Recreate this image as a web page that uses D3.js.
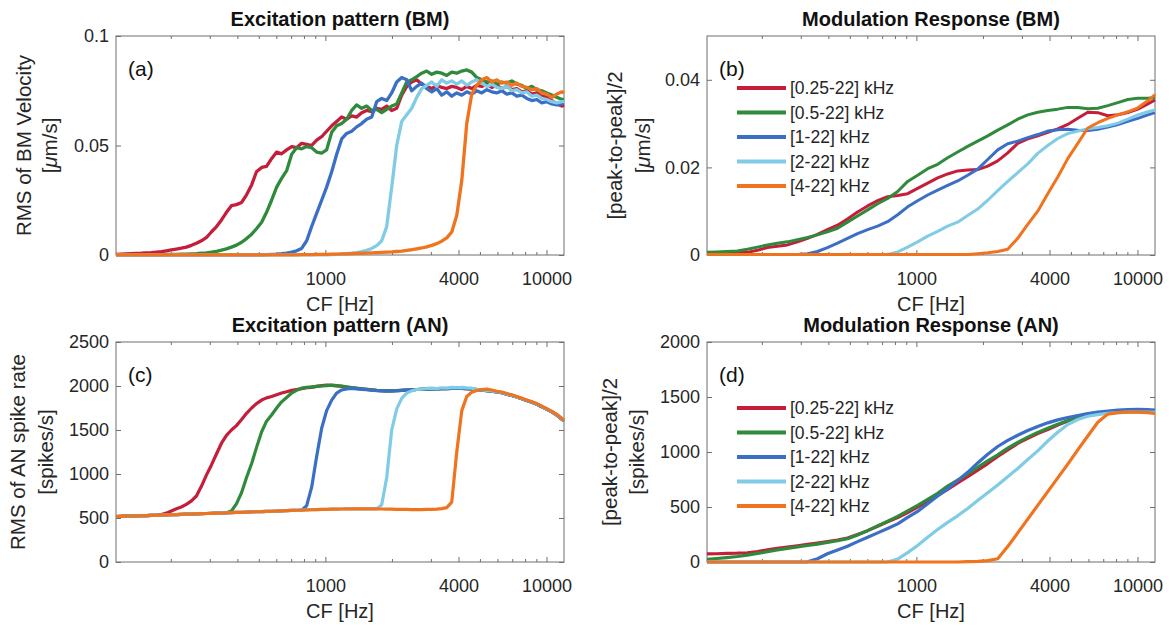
<!DOCTYPE html>
<html>
<head>
<meta charset="utf-8">
<script src="https://cdn.jsdelivr.net/npm/d3@7"></script>
<style>
  body { margin: 0; background: #fff; }
  svg { font-family: "Liberation Sans", Arial, sans-serif; }
</style>
</head>
<body>
<div id="chart"></div>
<script>
// 頻帶名稱與顏色
const bandNames = ["[0.25-22] kHz", "[0.5-22] kHz", "[1-22] kHz", "[2-22] kHz", "[4-22] kHz"];
const bandColors = ["#c41e3a", "#2f8a3c", "#3b6fc6", "#80cbe5", "#f0731e"];

// CF 軸
const cfDomain = [113, 12000];
const xTickValues = [1000, 4000, 10000];
const xMinorTicks = [200, 300, 400, 500, 600, 700, 800, 900, 2000, 3000, 5000, 6000, 7000, 8000, 9000];

// 細格點 (a)(c)
const cfFine = [113, 119, 125, 132, 139, 147, 155, 163, 172, 181,
  191, 201, 212, 223, 235, 248, 261, 275, 290, 305,
  322, 339, 357, 376, 396, 418, 440, 464, 488, 515,
  542, 571, 602, 634, 668, 704, 741, 781, 823, 867,
  913, 962, 1013, 1068, 1125, 1185, 1248, 1315, 1385, 1459,
  1537, 1620, 1706, 1798, 1894, 1995, 2102, 2214, 2333, 2457,
  2589, 2727, 2873, 3027, 3189, 3359, 3539, 3728, 3928, 4138,
  4359, 4592, 4838, 5097, 5370, 5657, 5959, 6278, 6614, 6968,
  7341, 7733, 8147, 8583, 9042, 9525, 10035, 10571, 11137, 11733, 12000];

// 粗格點 (b)(d)
const cfCoarse = [113, 125, 139, 155, 172, 191, 212, 235, 261, 290,
  322, 357, 396, 440, 488, 542, 602, 668, 741, 823,
  913, 1013, 1125, 1248, 1385, 1537, 1706, 1894, 2102, 2333,
  2589, 2873, 3189, 3539, 3928, 4359, 4838, 5370, 5959, 6614,
  7341, 8147, 9042, 10035, 11137, 12000];

// (a) Excitation pattern (BM), μm/s
const excBM025 = [0.0003, 0.0004, 0.0005, 0.0006, 0.0007, 0.0008, 0.0010, 0.0011, 0.0013, 0.0015,
  0.0019, 0.0023, 0.0027, 0.0031, 0.0036, 0.0044, 0.0054, 0.0065, 0.0080, 0.0105,
  0.0130, 0.0160, 0.0195, 0.0225, 0.0230, 0.0240, 0.0275, 0.0320, 0.0380, 0.0400,
  0.0405, 0.0440, 0.0470, 0.0462, 0.0480, 0.0495, 0.0490, 0.0510, 0.0505, 0.0500,
  0.0525, 0.0540, 0.0565, 0.0590, 0.0610, 0.0630, 0.0620, 0.0635, 0.0630, 0.0650,
  0.0660, 0.0655, 0.0670, 0.0665, 0.0680, 0.0660, 0.0670, 0.0730, 0.0770, 0.0790,
  0.0800, 0.0780, 0.0770, 0.0760, 0.0775, 0.0765, 0.0760, 0.0770, 0.0765, 0.0755,
  0.0770, 0.0760, 0.0775, 0.0770, 0.0780, 0.0765, 0.0775, 0.0760, 0.0770, 0.0755,
  0.0760, 0.0745, 0.0750, 0.0735, 0.0740, 0.0725, 0.0720, 0.0705, 0.0690, 0.0680, 0.0685];
const excBM05 = [0.0002, 0.0002, 0.0002, 0.0002, 0.0002, 0.0002, 0.0002, 0.0002, 0.0002, 0.0002,
  0.0003, 0.0003, 0.0003, 0.0004, 0.0004, 0.0005, 0.0006, 0.0008, 0.0010, 0.0013,
  0.0017, 0.0022, 0.0028, 0.0036, 0.0045, 0.0058, 0.0075, 0.0095, 0.0120, 0.0150,
  0.0195, 0.0250, 0.0310, 0.0350, 0.0385, 0.0460, 0.0490, 0.0485, 0.0495, 0.0490,
  0.0470, 0.0465, 0.0480, 0.0560, 0.0590, 0.0600, 0.0620, 0.0660, 0.0685, 0.0670,
  0.0680, 0.0660, 0.0665, 0.0650, 0.0665, 0.0680, 0.0690, 0.0740, 0.0790, 0.0800,
  0.0815, 0.0830, 0.0840, 0.0825, 0.0835, 0.0830, 0.0820, 0.0835, 0.0830, 0.0840,
  0.0845, 0.0835, 0.0810, 0.0800, 0.0790, 0.0795, 0.0780, 0.0790, 0.0785, 0.0795,
  0.0780, 0.0775, 0.0760, 0.0770, 0.0755, 0.0750, 0.0740, 0.0730, 0.0720, 0.0710, 0.0712];
const excBM1 = [0.0001, 0.0001, 0.0001, 0.0001, 0.0001, 0.0001, 0.0001, 0.0001, 0.0001, 0.0001,
  0.0001, 0.0001, 0.0001, 0.0001, 0.0001, 0.0001, 0.0001, 0.0001, 0.0001, 0.0001,
  0.0001, 0.0001, 0.0001, 0.0001, 0.0001, 0.0001, 0.0001, 0.0001, 0.0001, 0.0001,
  0.0002, 0.0003, 0.0004, 0.0006, 0.0009, 0.0013, 0.0019, 0.0030, 0.0065, 0.0130,
  0.0190, 0.0250, 0.0310, 0.0380, 0.0460, 0.0530, 0.0555, 0.0565, 0.0585, 0.0600,
  0.0620, 0.0630, 0.0700, 0.0715, 0.0705, 0.0740, 0.0790, 0.0810, 0.0800, 0.0750,
  0.0770, 0.0785, 0.0760, 0.0745, 0.0760, 0.0730, 0.0745, 0.0725, 0.0740, 0.0730,
  0.0745, 0.0735, 0.0750, 0.0740, 0.0755, 0.0745, 0.0740, 0.0750, 0.0735, 0.0740,
  0.0725, 0.0730, 0.0715, 0.0705, 0.0710, 0.0695, 0.0700, 0.0690, 0.0685, 0.0690, 0.0692];
const excBM2 = [0.0001, 0.0001, 0.0001, 0.0001, 0.0001, 0.0001, 0.0001, 0.0001, 0.0001, 0.0001,
  0.0001, 0.0001, 0.0001, 0.0001, 0.0001, 0.0001, 0.0001, 0.0001, 0.0001, 0.0001,
  0.0001, 0.0001, 0.0001, 0.0001, 0.0001, 0.0001, 0.0001, 0.0001, 0.0001, 0.0001,
  0.0001, 0.0001, 0.0001, 0.0001, 0.0001, 0.0001, 0.0001, 0.0001, 0.0001, 0.0001,
  0.0001, 0.0001, 0.0001, 0.0002, 0.0003, 0.0004, 0.0006, 0.0008, 0.0011, 0.0015,
  0.0021, 0.0030, 0.0043, 0.0065, 0.0130, 0.0310, 0.0500, 0.0610, 0.0640, 0.0670,
  0.0720, 0.0760, 0.0775, 0.0790, 0.0770, 0.0800, 0.0785, 0.0795, 0.0780, 0.0795,
  0.0775, 0.0790, 0.0800, 0.0785, 0.0770, 0.0780, 0.0765, 0.0760, 0.0770, 0.0750,
  0.0755, 0.0740, 0.0745, 0.0725, 0.0730, 0.0715, 0.0710, 0.0700, 0.0695, 0.0700, 0.0702];
const excBM4 = [0.0001, 0.0001, 0.0001, 0.0001, 0.0001, 0.0001, 0.0001, 0.0001, 0.0001, 0.0001,
  0.0001, 0.0001, 0.0001, 0.0001, 0.0001, 0.0001, 0.0001, 0.0001, 0.0001, 0.0001,
  0.0001, 0.0001, 0.0001, 0.0001, 0.0001, 0.0001, 0.0001, 0.0001, 0.0001, 0.0001,
  0.0001, 0.0001, 0.0001, 0.0001, 0.0001, 0.0001, 0.0001, 0.0002, 0.0002, 0.0002,
  0.0003, 0.0003, 0.0003, 0.0004, 0.0004, 0.0005, 0.0005, 0.0006, 0.0007, 0.0008,
  0.0009, 0.0010, 0.0011, 0.0012, 0.0013, 0.0014, 0.0016, 0.0018, 0.0021, 0.0024,
  0.0028, 0.0032, 0.0037, 0.0044, 0.0052, 0.0063, 0.0078, 0.0105, 0.0180, 0.0340,
  0.0600, 0.0735, 0.0775, 0.0800, 0.0810, 0.0790, 0.0800, 0.0785, 0.0790, 0.0775,
  0.0785, 0.0770, 0.0765, 0.0755, 0.0760, 0.0740, 0.0735, 0.0720, 0.0735, 0.0745, 0.0740];

// (b) Modulation Response (BM), μm/s
const modBM025 = [0.0004, 0.0004, 0.0005, 0.0005, 0.0006, 0.0011, 0.0017, 0.0020, 0.0023, 0.0030,
  0.0038, 0.0047, 0.0058, 0.0068, 0.0082, 0.0098, 0.0112, 0.0124, 0.0133, 0.0136,
  0.0140, 0.0152, 0.0164, 0.0176, 0.0185, 0.0192, 0.0194, 0.0195, 0.0203, 0.0215,
  0.0233, 0.0255, 0.0265, 0.0272, 0.0280, 0.0288, 0.0298, 0.0312, 0.0326, 0.0325,
  0.0318, 0.0320, 0.0325, 0.0333, 0.0345, 0.0354];
const modBM05 = [0.0006, 0.0007, 0.0008, 0.0009, 0.0013, 0.0018, 0.0023, 0.0027, 0.0030, 0.0035,
  0.0040, 0.0046, 0.0053, 0.0061, 0.0075, 0.0089, 0.0103, 0.0117, 0.0129, 0.0145,
  0.0168, 0.0182, 0.0197, 0.0207, 0.0222, 0.0235, 0.0248, 0.0260, 0.0272, 0.0285,
  0.0297, 0.0310, 0.0320, 0.0326, 0.0330, 0.0333, 0.0337, 0.0337, 0.0334, 0.0335,
  0.0341, 0.0348, 0.0355, 0.0358, 0.0358, 0.0359];
const modBM1 = [0.0001, 0.0001, 0.0001, 0.0001, 0.0001, 0.0001, 0.0001, 0.0001, 0.0001, 0.0001,
  0.0003, 0.0008, 0.0017, 0.0027, 0.0038, 0.0049, 0.0058, 0.0066, 0.0076, 0.0092,
  0.0110, 0.0124, 0.0137, 0.0148, 0.0159, 0.0169, 0.0182, 0.0196, 0.0218, 0.0240,
  0.0254, 0.0260, 0.0268, 0.0275, 0.0283, 0.0286, 0.0287, 0.0285, 0.0284, 0.0287,
  0.0292, 0.0298, 0.0305, 0.0312, 0.0320, 0.0325];
const modBM2 = [0.0001, 0.0001, 0.0001, 0.0001, 0.0001, 0.0001, 0.0001, 0.0001, 0.0001, 0.0001,
  0.0001, 0.0001, 0.0001, 0.0001, 0.0001, 0.0001, 0.0001, 0.0001, 0.0001, 0.0007,
  0.0018, 0.0030, 0.0043, 0.0054, 0.0066, 0.0075, 0.0090, 0.0105, 0.0125, 0.0147,
  0.0168, 0.0188, 0.0208, 0.0232, 0.0250, 0.0266, 0.0277, 0.0283, 0.0288, 0.0291,
  0.0295, 0.0301, 0.0310, 0.0320, 0.0327, 0.0331];
const modBM4 = [0.0001, 0.0001, 0.0001, 0.0001, 0.0001, 0.0001, 0.0001, 0.0001, 0.0001, 0.0001,
  0.0001, 0.0001, 0.0001, 0.0001, 0.0001, 0.0001, 0.0001, 0.0001, 0.0001, 0.0001,
  0.0001, 0.0001, 0.0001, 0.0001, 0.0001, 0.0001, 0.0001, 0.0003, 0.0005, 0.0008,
  0.0013, 0.0038, 0.0070, 0.0100, 0.0140, 0.0178, 0.0220, 0.0255, 0.0290, 0.0302,
  0.0312, 0.0320, 0.0327, 0.0336, 0.0352, 0.0366];

// (c) Excitation pattern (AN), spikes/s — 共同的自發放電基線
const anBaseline = [517, 519, 521, 522, 524, 526, 527, 529, 531, 533,
  535, 537, 539, 541, 543, 545, 547, 549, 551, 553,
  555, 557, 559, 561, 563, 565, 567, 569, 571, 573,
  575, 577, 579, 581, 583, 586, 588, 590, 592, 594,
  596, 598, 599, 600, 601, 602, 603, 603, 604, 604,
  604, 603, 603, 602, 601, 600, 599, 598, 597, 596,
  596, 596, 597, 598, 601, 606, 618];
const excAN025 = anBaseline.slice(0, 9).concat([540, 555, 580, 605, 625, 655, 695, 750, 860, 990,
  1100, 1230, 1350, 1440, 1500, 1550, 1620, 1690, 1750, 1800, 1840, 1865, 1880, 1900, 1920,
  1935, 1950, 1960, 1970, 1980, 1985, 1995, 2005, 2010, 2008, 2002, 1996, 1988, 1980, 1973,
  1968, 1962, 1956, 1950, 1946, 1944, 1944, 1947, 1950, 1953, 1957, 1960, 1963, 1965, 1967,
  1968, 1970, 1971, 1972, 1973, 1972, 1970, 1966, 1960, 1953, 1948, 1942, 1932, 1923, 1906,
  1892, 1874, 1855, 1836, 1815, 1792, 1765, 1735, 1705, 1670, 1622, 1605]);
const excAN05 = anBaseline.slice(0, 23).concat([580, 660, 790, 960, 1120, 1300, 1480, 1600, 1670,
  1750, 1820, 1870, 1920, 1950, 1975, 1985, 1990, 1995, 2000, 2005, 2010, 2005, 2000, 1990,
  1982, 1975, 1968, 1962, 1956, 1950, 1946, 1944, 1944, 1947, 1950, 1953, 1957, 1960, 1963,
  1965, 1967, 1968, 1970, 1971, 1972, 1973, 1972, 1970, 1966, 1960, 1953, 1948, 1942, 1932,
  1923, 1906, 1892, 1874, 1855, 1836, 1815, 1792, 1765, 1735, 1705, 1670, 1622, 1605]);
const excAN1 = anBaseline.slice(0, 38).concat([640, 850, 1200, 1520, 1720, 1840, 1920, 1955, 1968,
  1972, 1968, 1962, 1958, 1952, 1948, 1944, 1942, 1943, 1946, 1950, 1953, 1957, 1960, 1963,
  1965, 1967, 1968, 1970, 1971, 1972, 1973, 1972, 1970, 1966, 1960, 1953, 1948, 1942, 1932,
  1923, 1906, 1892, 1874, 1855, 1836, 1815, 1792, 1765, 1735, 1705, 1670, 1622, 1605]);
const excAN2 = anBaseline.slice(0, 53).concat([650, 960, 1500, 1740, 1860, 1920, 1945, 1960, 1965,
  1972, 1975, 1970, 1980, 1976, 1984, 1980, 1985, 1978, 1975, 1962, 1955, 1950, 1945, 1935,
  1926, 1910, 1895, 1876, 1858, 1838, 1818, 1795, 1768, 1738, 1708, 1672, 1625, 1610]);
const excAN4 = anBaseline.concat([680, 1250, 1720, 1880, 1930, 1950, 1960, 1965, 1955, 1940,
  1932, 1915, 1900, 1880, 1862, 1842, 1822, 1800, 1772, 1742, 1712, 1678, 1632, 1615]);

// (d) Modulation Response (AN), spikes/s
const modAN025 = [73, 75, 78, 80, 84, 95, 110, 124, 136, 148,
  160, 172, 185, 200, 218, 250, 285, 325, 365, 405,
  450, 500, 552, 605, 660, 718, 775, 835, 895, 960,
  1020, 1078, 1125, 1168, 1205, 1245, 1282, 1310, 1335, 1352,
  1362, 1368, 1372, 1375, 1376, 1376];
const modAN05 = [25, 32, 40, 50, 62, 78, 94, 110, 124, 137,
  150, 163, 178, 193, 212, 245, 285, 328, 370, 415,
  465, 515, 570, 625, 690, 745, 800, 860, 920, 975,
  1035, 1088, 1135, 1178, 1215, 1252, 1285, 1312, 1335, 1350,
  1360, 1367, 1372, 1375, 1376, 1376];
const modAN1 = [0, 0, 0, 0, 0, 0, 0, 0, 0, 0,
  2, 30, 75, 110, 143, 185, 225, 265, 305, 347,
  405, 460, 530, 600, 665, 740, 815, 900, 980, 1050,
  1105, 1152, 1195, 1232, 1265, 1292, 1312, 1332, 1350, 1362,
  1372, 1380, 1386, 1388, 1386, 1380];
const modAN2 = [0, 0, 0, 0, 0, 0, 0, 0, 0, 0,
  0, 0, 0, 0, 0, 0, 0, 0, 0, 27,
  85, 150, 225, 295, 360, 420, 487, 560, 630, 700,
  775, 850, 932, 1010, 1100, 1180, 1250, 1295, 1325, 1340,
  1352, 1358, 1362, 1363, 1362, 1360];
const modAN4 = [0, 0, 0, 0, 0, 0, 0, 0, 0, 0,
  0, 0, 0, 0, 0, 0, 0, 0, 0, 0,
  0, 0, 0, 0, 0, 0, 3, 6, 12, 30,
  140, 265, 390, 515, 640, 765, 890, 1020, 1145, 1270,
  1345, 1358, 1362, 1362, 1358, 1350];

// y 軸刻度
const yTicksA = [0, 0.05, 0.1];
const yTicksB = [0, 0.02, 0.04];
const yTicksC = [0, 500, 1000, 1500, 2000, 2500];
const yTicksD = [0, 500, 1000, 1500, 2000];

const panels = [
  { tag: "(a)", title: "Excitation pattern (BM)", box: [116, 36, 564, 255], yDomain: [0, 0.1], yTicks: yTicksA,
    yLabel: "RMS of BM Velocity", unit: "um", labelOffsets: [85, 59], grid: cfFine, lineWidth: 3.3,
    series: [excBM025, excBM05, excBM1, excBM2, excBM4], legendTop: null },
  { tag: "(b)", title: "Modulation Response (BM)", box: [707, 36, 1155, 255], yDomain: [0, 0.05], yTicks: yTicksB,
    yLabel: "[peak-to-peak]/2", unit: "um", labelOffsets: [85, 57], grid: cfCoarse, lineWidth: 3,
    series: [modBM025, modBM05, modBM1, modBM2, modBM4], legendTop: 52 },
  { tag: "(c)", title: "Excitation pattern (AN)", box: [116, 342, 564, 562], yDomain: [0, 2500], yTicks: yTicksC,
    yLabel: "RMS of AN spike rate", unit: "spikes", labelOffsets: [91, 63], grid: cfFine, lineWidth: 3.2,
    series: [excAN025, excAN05, excAN1, excAN2, excAN4], legendTop: null },
  { tag: "(d)", title: "Modulation Response (AN)", box: [707, 342, 1155, 562], yDomain: [0, 2000], yTicks: yTicksD,
    yLabel: "[peak-to-peak]/2", unit: "spikes", labelOffsets: [90, 63], grid: cfCoarse, lineWidth: 3.2,
    series: [modAN025, modAN05, modAN1, modAN2, modAN4], legendTop: 66 }
];

const svg = d3.select("#chart")
  .append("svg")
  .attr("width", 1170)
  .attr("height", 626);

svg.append("rect").attr("width", 1170).attr("height", 626).attr("fill", "#fff");

panels.forEach(drawPanel);

// 繪製單一子圖
function drawPanel(p) {
  const [x0, y0, x1, y1] = p.box;
  const x = d3.scaleLog().domain(cfDomain).range([x0, x1]);
  const y = d3.scaleLinear().domain(p.yDomain).range([y1, y0]);
  const g = svg.append("g");
  const axisColor = "#6e6e6e";
  const textColor = "#262626";

  // 外框
  g.append("rect")
    .attr("x", x0).attr("y", y0)
    .attr("width", x1 - x0).attr("height", y1 - y0)
    .attr("fill", "none").attr("stroke", axisColor).attr("stroke-width", 1);

  // x 軸刻度（內側，上下都有）
  const styleAxis = sel => {
    sel.select(".domain").remove();
    sel.selectAll(".tick line").attr("stroke", axisColor);
    sel.selectAll("text").attr("fill", textColor).style("font-size", "18px")
      .style("font-family", '"Liberation Sans", Arial, sans-serif');
  };
  g.append("g").attr("transform", `translate(0,${y1})`)
    .call(d3.axisBottom(x).tickValues(xTickValues).tickFormat(d => String(d)).tickSize(-5).tickPadding(17))
    .call(styleAxis);
  g.append("g").attr("transform", `translate(0,${y1})`)
    .call(d3.axisBottom(x).tickValues(xMinorTicks).tickFormat("").tickSize(-3))
    .call(styleAxis);
  g.append("g").attr("transform", `translate(0,${y0})`)
    .call(d3.axisTop(x).tickValues(xTickValues).tickFormat("").tickSize(-5))
    .call(styleAxis);
  g.append("g").attr("transform", `translate(0,${y0})`)
    .call(d3.axisTop(x).tickValues(xMinorTicks).tickFormat("").tickSize(-3))
    .call(styleAxis);

  // y 軸刻度
  g.append("g").attr("transform", `translate(${x0},0)`)
    .call(d3.axisLeft(y).tickValues(p.yTicks).tickFormat(d => String(d)).tickSize(-5).tickPadding(7))
    .call(styleAxis);
  g.append("g").attr("transform", `translate(${x1},0)`)
    .call(d3.axisRight(y).tickValues(p.yTicks).tickFormat("").tickSize(-5))
    .call(styleAxis);

  // 曲線
  const line = d3.line().x(d => x(d[0])).y(d => y(d[1]));
  p.series.forEach((vals, i) => {
    g.append("path")
      .datum(p.grid.map((cf, k) => [cf, vals[k]]))
      .attr("d", line)
      .attr("fill", "none")
      .attr("stroke", bandColors[i])
      .attr("stroke-width", p.lineWidth)
      .attr("stroke-linejoin", "round");
  });

  // 標題
  g.append("text")
    .attr("x", (x0 + x1) / 2).attr("y", y0 - 10)
    .attr("text-anchor", "middle")
    .style("font-size", "20px").style("font-weight", "bold")
    .attr("fill", "#111")
    .text(p.title);

  // 子圖標記
  g.append("text")
    .attr("x", x0 + 12).attr("y", y0 + 40)
    .style("font-size", "21px").attr("fill", "#111")
    .text(p.tag);

  // x 軸標籤
  g.append("text")
    .attr("x", (x0 + x1) / 2).attr("y", y1 + 56)
    .attr("text-anchor", "middle")
    .style("font-size", "20px").attr("fill", textColor)
    .text("CF [Hz]");

  // y 軸標籤（兩行）
  const cy = (y0 + y1) / 2;
  g.append("text")
    .attr("transform", `translate(${x0 - p.labelOffsets[0]},${cy}) rotate(-90)`)
    .attr("text-anchor", "middle")
    .style("font-size", "20.5px").attr("fill", textColor)
    .text(p.yLabel);
  const unit = g.append("text")
    .attr("transform", `translate(${x0 - p.labelOffsets[1]},${cy}) rotate(-90)`)
    .attr("text-anchor", "middle")
    .style("font-size", "20.5px").attr("fill", textColor);
  if (p.unit === "um") {
    unit.append("tspan").text("[");
    unit.append("tspan").style("font-style", "italic").text("μ");
    unit.append("tspan").text("m/s]");
  } else {
    unit.text("[spikes/s]");
  }

  // 圖例
  if (p.legendTop !== null) {
    const leg = g.append("g");
    bandNames.forEach((name, i) => {
      const ly = y0 + p.legendTop + i * 24.5;
      leg.append("line")
        .attr("x1", x0 + 30).attr("x2", x0 + 79)
        .attr("y1", ly).attr("y2", ly)
        .attr("stroke", bandColors[i]).attr("stroke-width", 4);
      leg.append("text")
        .attr("x", x0 + 83).attr("y", ly)
        .attr("dy", "0.35em")
        .style("font-size", "17.5px").attr("fill", textColor)
        .text(name);
    });
  }
}
</script>
</body>
</html>
